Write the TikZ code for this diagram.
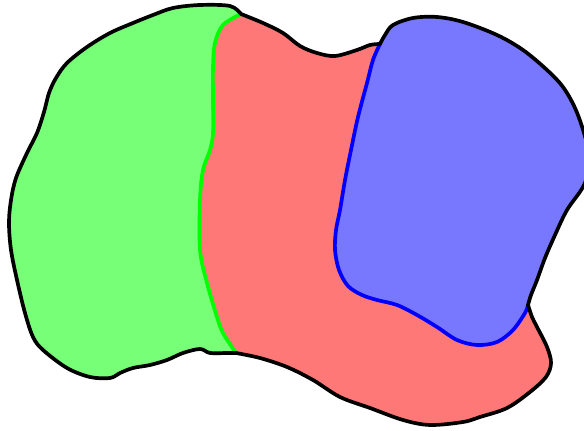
\documentclass[tikz,border=0pt]{standalone}
\usepackage{tikz}

\definecolor{greenfill}{RGB}{120,255,120}
\definecolor{redfill}{RGB}{255,120,120}
\definecolor{bluefill}{RGB}{120,120,255}

\begin{document}
\begin{tikzpicture}[x=0.02cm,y=-0.02cm]
	\newcommand\edgewidth{2.1pt};
	\newcommand\tens{0.55};
	\useasboundingbox (0,0) rectangle (584,431);
	\clip (0,0) rectangle (584,431);
	% red: the whole outline
	\fill[redfill] plot[smooth,tension=\tens] coordinates {(236,353) (227,353) (210,353) (200,349) (183,353) (167,360) (150,365) (133,368) (120,373) (110,378) (90,377) (67,368) (43,350) (33,337) (25,313) (17,280) (11,250) (9,223) (11,200) (16,178) (27,153) (37,133) (44,112) (49,93) (56,78) (67,63) (87,47) (110,33) (133,23) (153,15) (173,8) (200,5) (230,6) (241,14)}
		-- plot[smooth,tension=\tens] coordinates {(241,14) (263,23) (283,33) (300,46) (317,53) (335,56) (357,50) (370,45) (380,44)}
		-- plot[smooth,tension=\tens] coordinates {(380,44) (385,35) (393,25) (413,18) (437,17) (463,22) (497,35) (523,50) (547,70) (563,87) (575,108) (584,133) (590,160) (584,185) (567,210) (555,235) (545,258) (537,280) (531,295) (528,305)}
		-- plot[smooth,tension=\tens] coordinates {(528,305) (532,317) (537,327) (547,347) (551,363) (546,377) (530,392) (507,408) (480,417) (463,422) (430,425) (403,420) (370,408) (340,397) (313,380) (287,367) (260,358) (236,353)} -- cycle;
	% green
	\fill[greenfill] plot[smooth,tension=\tens] coordinates {(236,353) (227,353) (210,353) (200,349) (183,353) (167,360) (150,365) (133,368) (120,373) (110,378) (90,377) (67,368) (43,350) (33,337) (25,313) (17,280) (11,250) (9,223) (11,200) (16,178) (27,153) (37,133) (44,112) (49,93) (56,78) (67,63) (87,47) (110,33) (133,23) (153,15) (173,8) (200,5) (230,6) (241,14)}
		-- plot[smooth,tension=\tens] coordinates {(241,14) (223,25) (215,43) (213,67) (213,100) (213,133) (210,150) (203,170) (200,200) (200,250) (207,283) (217,317) (223,333) (236,353)} -- cycle;
	% blue
	\fill[bluefill] plot[smooth,tension=\tens] coordinates {(380,44) (385,35) (393,25) (413,18) (437,17) (463,22) (497,35) (523,50) (547,70) (563,87) (575,108) (584,133) (590,160) (584,185) (567,210) (555,235) (545,258) (537,280) (531,295) (528,305)}
		-- plot[smooth,tension=\tens] coordinates {(528,305) (525,313) (513,330) (497,342) (477,345) (457,340) (437,327) (417,315) (397,305) (377,300) (362,295) (348,286) (339,270) (335,250) (336,230) (340,210) (345,180) (351,150) (358,117) (367,83) (373,60) (380,44)} -- cycle;
	% inner borders
	\draw[green,line width=\edgewidth] plot[smooth,tension=\tens] coordinates {(241,14) (223,25) (215,43) (213,67) (213,100) (213,133) (210,150) (203,170) (200,200) (200,250) (207,283) (217,317) (223,333) (236,353)};
	\draw[blue,line width=\edgewidth] plot[smooth,tension=\tens] coordinates {(528,305) (525,313) (513,330) (497,342) (477,345) (457,340) (437,327) (417,315) (397,305) (377,300) (362,295) (348,286) (339,270) (335,250) (336,230) (340,210) (345,180) (351,150) (358,117) (367,83) (373,60) (380,44)};
	% outline
	\draw[black,line width=\edgewidth,line join=round] plot[smooth,tension=\tens] coordinates {(236,353) (227,353) (210,353) (200,349) (183,353) (167,360) (150,365) (133,368) (120,373) (110,378) (90,377) (67,368) (43,350) (33,337) (25,313) (17,280) (11,250) (9,223) (11,200) (16,178) (27,153) (37,133) (44,112) (49,93) (56,78) (67,63) (87,47) (110,33) (133,23) (153,15) (173,8) (200,5) (230,6) (241,14)}
		-- plot[smooth,tension=\tens] coordinates {(241,14) (263,23) (283,33) (300,46) (317,53) (335,56) (357,50) (370,45) (380,44)}
		-- plot[smooth,tension=\tens] coordinates {(380,44) (385,35) (393,25) (413,18) (437,17) (463,22) (497,35) (523,50) (547,70) (563,87) (575,108) (584,133) (590,160) (584,185) (567,210) (555,235) (545,258) (537,280) (531,295) (528,305)}
		-- plot[smooth,tension=\tens] coordinates {(528,305) (532,317) (537,327) (547,347) (551,363) (546,377) (530,392) (507,408) (480,417) (463,422) (430,425) (403,420) (370,408) (340,397) (313,380) (287,367) (260,358) (236,353)} -- cycle;
\end{tikzpicture}
\end{document}
